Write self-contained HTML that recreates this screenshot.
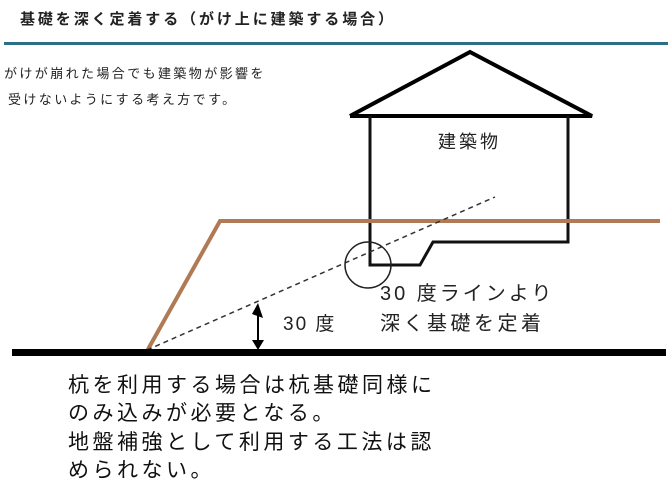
<!DOCTYPE html>
<html><head><meta charset="utf-8"><style>
body{margin:0;width:668px;height:497px;background:#fff;overflow:hidden;font-family:"Liberation Sans","Noto Sans CJK JP",sans-serif;}
</style></head><body>
<svg width="668" height="497" xmlns="http://www.w3.org/2000/svg" style="position:absolute;left:0;top:0">
<text x="20" y="24" font-size="15" font-weight="bold" fill="#222" letter-spacing="2.9">基礎を深く定着する（がけ上に建築する場合）</text>
<rect x="4" y="42" width="664" height="3" fill="#2b6f88"/>
<text x="4" y="78" font-size="13" fill="#222" letter-spacing="2.4">がけが崩れた場合でも建築物が影響を</text>
<text x="8" y="104" font-size="13" fill="#222" letter-spacing="2.4"> 受けないようにする考え方です。</text>
<polyline points="350,116 470,52 592,116 350,116" fill="none" stroke="#000" stroke-width="4" stroke-linejoin="miter"/>
<polyline points="370,116 370,265 420,265 433,242 568,242 568,116" fill="none" stroke="#111" stroke-width="3"/>
<text x="438" y="148" font-size="18" fill="#222" letter-spacing="3">建築物</text>
<polyline points="147,351 220,221 660,221" fill="none" stroke="#b07a55" stroke-width="4"/>
<line x1="147" y1="350" x2="495" y2="197" stroke="#333" stroke-width="1.5" stroke-dasharray="5,4"/>
<circle cx="368" cy="265" r="23" fill="none" stroke="#222" stroke-width="1.5"/>
<line x1="258" y1="312" x2="258" y2="346" stroke="#000" stroke-width="2"/>
<polygon points="252,314 258,303 263,318" fill="#000"/>
<polygon points="252,340 264,340 258,350" fill="#000"/>
<text x="283" y="330" font-size="19" fill="#222" letter-spacing="2">30 度</text>
<text x="380" y="300" font-size="20" fill="#222" letter-spacing="3">30 度ラインより</text>
<text x="380" y="330" font-size="20" fill="#222" letter-spacing="3.5">深く基礎を定着</text>
<rect x="12" y="349" width="654" height="7" fill="#000"/>
<text x="68" y="392" font-size="21" fill="#111" letter-spacing="3.5">杭を利用する場合は杭基礎同様に</text>
<text x="68" y="420" font-size="21" fill="#111" letter-spacing="3.5">のみ込みが必要となる。</text>
<text x="68" y="449" font-size="21" fill="#111" letter-spacing="3.5">地盤補強として利用する工法は認</text>
<text x="68" y="477" font-size="21" fill="#111" letter-spacing="3.5">められない。</text>
</svg>
</body></html>
